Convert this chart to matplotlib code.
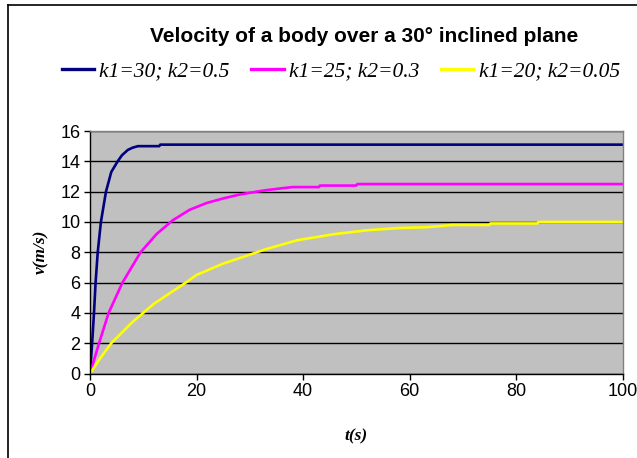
import matplotlib.pyplot as plt
from matplotlib.lines import Line2D

# time (s) and velocity (m/s) for each pair of drag coefficients
t_blue = [0, 0.4, 0.75, 1.05, 1.45, 2.05, 3.0, 4.0, 5.2, 6.0, 7.1, 8.0, 9.0,
          13.0, 13.2, 100]
v_blue = [0, 2, 4, 6, 8, 10, 12, 13.3, 14.0, 14.4, 14.75, 14.9, 15.0,
          15.0, 15.1, 15.1]

t_pink = [0, 1.7, 3.5, 6.1, 9.5, 12.5, 15.5, 18.7, 21.9, 25, 28, 31.3, 33.2,
          35.5, 38, 43, 43.2, 50, 50.2, 100]
v_pink = [0, 2, 4, 6, 8, 9.2, 10.1, 10.8, 11.25, 11.55, 11.8, 12.0, 12.1,
          12.2, 12.3, 12.3, 12.4, 12.4, 12.5, 12.5]

t_yel = [0, 2, 4, 6, 8, 10, 12, 15, 18, 20, 25, 28, 33, 39, 46, 52, 58, 63,
         65, 68, 75, 75.2, 84, 84.2, 100]
v_yel = [0, 1.05, 2.0, 2.7, 3.4, 4.0, 4.6, 5.3, 6.0, 6.5, 7.25, 7.6, 8.2,
         8.8, 9.2, 9.45, 9.6, 9.65, 9.7, 9.8, 9.8, 9.9, 9.9, 10.0, 10.0]

labels = ['k1=30; k2=0.5', 'k1=25; k2=0.3', 'k1=20; k2=0.05']
colors = ['#000080', '#FF00FF', '#FFFF00']

fig = plt.figure(figsize=(6.37, 4.58), dpi=100)
ax = fig.add_axes([90 / 637, 1 - 373.5 / 458, 532.5 / 637, 242.5 / 458])
ax.set_facecolor('#C0C0C0')

for t, v, c in zip([t_blue, t_pink, t_yel], [v_blue, v_pink, v_yel], colors):
    ax.plot(t, v, color=c, lw=1.9, solid_joinstyle='round')

ax.set_xlim(0, 100)
ax.set_ylim(0, 16)
ax.set_xticks(range(0, 101, 20))
ax.set_yticks(range(0, 17, 2))
ax.yaxis.grid(True, color='black', lw=1.0)
ax.set_axisbelow(True)

for side in ['top', 'right']:
    ax.spines[side].set_color('#808080')
    ax.spines[side].set_linewidth(1.0)
for side in ['left', 'bottom']:
    ax.spines[side].set_color('black')
    ax.spines[side].set_linewidth(1.0)

ax.tick_params(direction='out', length=4, width=1, labelsize=13,
               pad=3)
for lab in ax.get_xticklabels() + ax.get_yticklabels():
    lab.set_family('Liberation Sans')

ax.set_xlabel('t(s)', family='Liberation Serif', style='italic',
              weight='bold', fontsize=12.5, labelpad=20)
ax.set_ylabel('v(m/s)', family='Liberation Serif', style='italic',
              weight='bold', fontsize=12.5, labelpad=8)

fig.text(0.571, 1 - 36 / 458, 'Velocity of a body over a 30° inclined plane',
         ha='center', va='center', family='Liberation Sans', weight='bold',
         fontsize=15)

handles = [Line2D([], [], color=c, lw=2.4) for c in colors]
fig.legend(handles, labels, loc='center', bbox_to_anchor=(0.535, 1 - 71 / 458),
           ncol=3, frameon=False, handlelength=1.5, handletextpad=0.25,
           columnspacing=1.0,
           prop={'family': 'Liberation Serif', 'style': 'italic', 'size': 15.5})

# chart frame (left and top edges)
fig.add_artist(Line2D([8 / 637, 8 / 637], [0, 1 - 5 / 458], color='black',
                      lw=1.2, transform=fig.transFigure))
fig.add_artist(Line2D([8 / 637, 1], [1 - 5 / 458, 1 - 5 / 458], color='black',
                      lw=1.2, transform=fig.transFigure))

plt.savefig('out.png', dpi=100)
